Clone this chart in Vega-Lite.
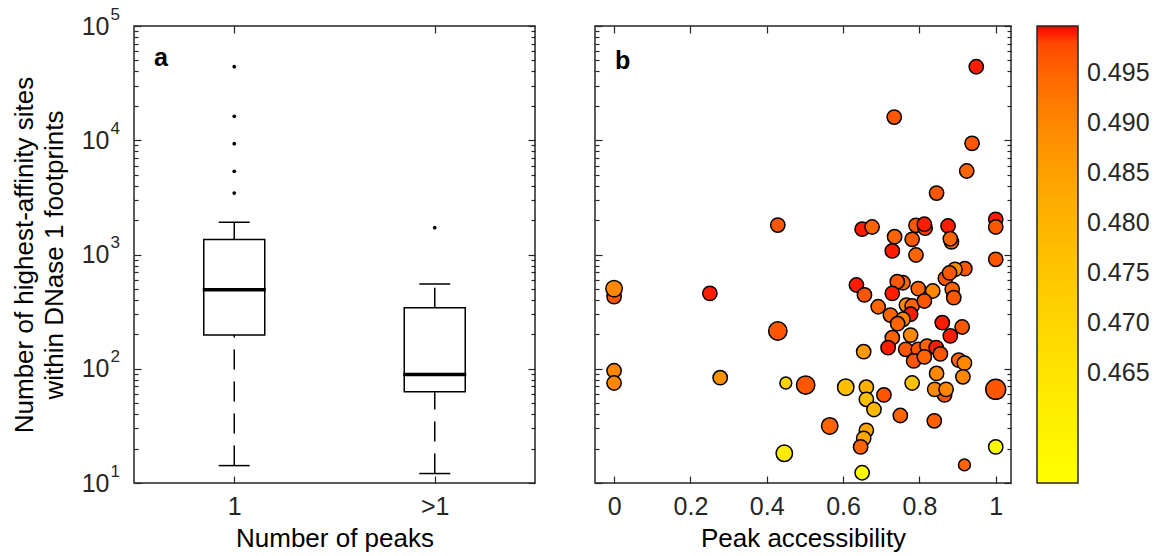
{
  "$schema": "https://vega.github.io/schema/vega-lite/v6.json",
  "background": "white",
  "padding": {"left": 10, "top": 4, "right": 5, "bottom": 5},
  "bounds": "flush",
  "spacing": 60,
  "datasets": {
    "box": [
      {"peaks": "1", "lower": 14.2, "q1": 197, "median": 492, "q3": 1350, "upper": 1915},
      {"peaks": ">1", "lower": 12.1, "q1": 63, "median": 89, "q3": 342, "upper": 552}
    ],
    "out": [
      {"peaks": "1", "v": 44000},
      {"peaks": "1", "v": 16200},
      {"peaks": "1", "v": 9330},
      {"peaks": "1", "v": 5350},
      {"peaks": "1", "v": 3450},
      {"peaks": ">1", "v": 1718}
    ],
    "pts": [
      {"acc": 0, "sites": 428, "auc": 0.4965, "n": 2},
      {"acc": 0, "sites": 503, "auc": 0.490, "n": 3},
      {"acc": 0, "sites": 96, "auc": 0.490, "n": 2},
      {"acc": 0, "sites": 75, "auc": 0.490, "n": 2},
      {"acc": 0.251, "sites": 457, "auc": 0.4995, "n": 2},
      {"acc": 0.278, "sites": 83.5, "auc": 0.488, "n": 2},
      {"acc": 0.429, "sites": 1810, "auc": 0.4965, "n": 2},
      {"acc": 0.429, "sites": 214, "auc": 0.4965, "n": 4},
      {"acc": 0.450, "sites": 75, "auc": 0.471, "n": 1},
      {"acc": 0.446, "sites": 18.2, "auc": 0.462, "n": 3},
      {"acc": 0.502, "sites": 72, "auc": 0.4965, "n": 4},
      {"acc": 0.949, "sites": 44000, "auc": 0.4995, "n": 2},
      {"acc": 0.734, "sites": 15950, "auc": 0.4965, "n": 2},
      {"acc": 0.938, "sites": 9400, "auc": 0.4965, "n": 2},
      {"acc": 0.924, "sites": 5380, "auc": 0.495, "n": 2},
      {"acc": 0.845, "sites": 3450, "auc": 0.4965, "n": 2},
      {"acc": 1.0, "sites": 2030, "auc": 0.4995, "n": 2},
      {"acc": 1.0, "sites": 1740, "auc": 0.4965, "n": 2},
      {"acc": 1.0, "sites": 908, "auc": 0.4965, "n": 2},
      {"acc": 1.0, "sites": 66, "auc": 0.4965, "n": 5},
      {"acc": 1.0, "sites": 20.7, "auc": 0.456, "n": 2},
      {"acc": 0.918, "sites": 14.4, "auc": 0.495, "n": 1},
      {"acc": 0.650, "sites": 1665, "auc": 0.4995, "n": 2},
      {"acc": 0.676, "sites": 1740, "auc": 0.495, "n": 2},
      {"acc": 0.735, "sites": 1432, "auc": 0.495, "n": 2},
      {"acc": 0.729, "sites": 1075, "auc": 0.4995, "n": 2},
      {"acc": 0.781, "sites": 1358, "auc": 0.4965, "n": 2},
      {"acc": 0.791, "sites": 1800, "auc": 0.4965, "n": 2},
      {"acc": 0.815, "sites": 1700, "auc": 0.4985, "n": 2},
      {"acc": 0.813, "sites": 1840, "auc": 0.4995, "n": 2},
      {"acc": 0.791, "sites": 990, "auc": 0.495, "n": 2},
      {"acc": 0.875, "sites": 1775, "auc": 0.4995, "n": 2},
      {"acc": 0.884, "sites": 1290, "auc": 0.4965, "n": 2},
      {"acc": 0.881, "sites": 1374, "auc": 0.495, "n": 2},
      {"acc": 0.919, "sites": 751, "auc": 0.4965, "n": 2},
      {"acc": 0.893, "sites": 741, "auc": 0.489, "n": 2},
      {"acc": 0.868, "sites": 619, "auc": 0.4965, "n": 2},
      {"acc": 0.879, "sites": 690, "auc": 0.4965, "n": 2},
      {"acc": 0.886, "sites": 496, "auc": 0.495, "n": 2},
      {"acc": 0.890, "sites": 419, "auc": 0.4965, "n": 2},
      {"acc": 0.635, "sites": 541, "auc": 0.4995, "n": 2},
      {"acc": 0.656, "sites": 443, "auc": 0.4965, "n": 2},
      {"acc": 0.757, "sites": 566, "auc": 0.495, "n": 2},
      {"acc": 0.742, "sites": 578, "auc": 0.4965, "n": 2},
      {"acc": 0.729, "sites": 457, "auc": 0.4995, "n": 2},
      {"acc": 0.797, "sites": 503, "auc": 0.495, "n": 2},
      {"acc": 0.835, "sites": 479, "auc": 0.490, "n": 2},
      {"acc": 0.692, "sites": 349, "auc": 0.495, "n": 2},
      {"acc": 0.724, "sites": 295, "auc": 0.495, "n": 2},
      {"acc": 0.766, "sites": 361, "auc": 0.490, "n": 2},
      {"acc": 0.781, "sites": 354, "auc": 0.495, "n": 2},
      {"acc": 0.813, "sites": 392, "auc": 0.4965, "n": 2},
      {"acc": 0.777, "sites": 300, "auc": 0.4995, "n": 2},
      {"acc": 0.757, "sites": 271, "auc": 0.490, "n": 2},
      {"acc": 0.743, "sites": 248, "auc": 0.495, "n": 2},
      {"acc": 0.860, "sites": 253, "auc": 0.4995, "n": 2},
      {"acc": 0.912, "sites": 232, "auc": 0.4965, "n": 2},
      {"acc": 0.881, "sites": 194, "auc": 0.4995, "n": 2},
      {"acc": 0.729, "sites": 187, "auc": 0.495, "n": 2},
      {"acc": 0.777, "sites": 197, "auc": 0.490, "n": 2},
      {"acc": 0.718, "sites": 153, "auc": 0.4995, "n": 2},
      {"acc": 0.764, "sites": 148, "auc": 0.4965, "n": 2},
      {"acc": 0.797, "sites": 148, "auc": 0.4965, "n": 2},
      {"acc": 0.820, "sites": 158, "auc": 0.495, "n": 2},
      {"acc": 0.844, "sites": 153, "auc": 0.4995, "n": 2},
      {"acc": 0.855, "sites": 135, "auc": 0.4965, "n": 2},
      {"acc": 0.785, "sites": 117, "auc": 0.4965, "n": 2},
      {"acc": 0.813, "sites": 127, "auc": 0.495, "n": 2},
      {"acc": 0.903, "sites": 119, "auc": 0.495, "n": 2},
      {"acc": 0.918, "sites": 112, "auc": 0.490, "n": 2},
      {"acc": 0.654, "sites": 141, "auc": 0.486, "n": 2},
      {"acc": 0.845, "sites": 91, "auc": 0.490, "n": 2},
      {"acc": 0.914, "sites": 85, "auc": 0.490, "n": 2},
      {"acc": 0.607, "sites": 69, "auc": 0.477, "n": 3},
      {"acc": 0.661, "sites": 69, "auc": 0.481, "n": 2},
      {"acc": 0.661, "sites": 54, "auc": 0.477, "n": 2},
      {"acc": 0.681, "sites": 44, "auc": 0.479, "n": 2},
      {"acc": 0.707, "sites": 59, "auc": 0.4965, "n": 2},
      {"acc": 0.781, "sites": 75, "auc": 0.476, "n": 2},
      {"acc": 0.750, "sites": 39, "auc": 0.495, "n": 2},
      {"acc": 0.839, "sites": 35, "auc": 0.4955, "n": 2},
      {"acc": 0.866, "sites": 59, "auc": 0.4965, "n": 2},
      {"acc": 0.840, "sites": 66, "auc": 0.490, "n": 2},
      {"acc": 0.870, "sites": 66, "auc": 0.490, "n": 2},
      {"acc": 0.565, "sites": 31.6, "auc": 0.495, "n": 3},
      {"acc": 0.661, "sites": 28.9, "auc": 0.484, "n": 2},
      {"acc": 0.654, "sites": 24.6, "auc": 0.483, "n": 2},
      {"acc": 0.646, "sites": 20.7, "auc": 0.495, "n": 2},
      {"acc": 0.650, "sites": 12.3, "auc": 0.455, "n": 2}
    ]
  },
  "hconcat": [
    {
      "width": 401,
      "height": 457,
      "title": {"text": "a", "offset": -66},
      "layer": [
        {
          "data": {"name": "box"},
          "mark": {"type": "rule", "strokeDash": [20, 12], "strokeWidth": 1.5, "color": "#000"},
          "encoding": {
            "x": {"field": "peaks", "type": "nominal", "scale": {"type": "point", "domain": ["1", ">1"], "padding": 0.5},
              "axis": {"orient": "bottom", "tickSize": -7, "labelPadding": 18, "labelAngle": 0, "title": "Number of peaks", "titlePadding": 6}},
            "y": {"field": "lower", "type": "quantitative", "scale": {"type": "log", "domain": [10, 100000], "nice": false},
              "axis": {"orient": "left", "values": [10, 100, 1000, 10000, 100000], "labelExpr": "'10'", "tickSize": -7, "labelPadding": 32, "title": ["Number of highest-affinity sites", "within DNase 1 footprints"], "titlePadding": 14, "titleLineHeight": 30}},
            "y2": {"field": "q1"}
          }
        },
        {
          "data": {"name": "box"},
          "mark": {"type": "rule", "strokeDash": [20, 12], "strokeWidth": 1.5, "color": "#000"},
          "encoding": {
            "x": {"field": "peaks", "type": "nominal", "axis": {"orient": "top", "tickSize": -7, "labels": false, "title": null}},
            "y": {"field": "q3", "type": "quantitative", "axis": {"orient": "left", "values": [20,30,40,50,60,70,80,90,200,300,400,500,600,700,800,900,2000,3000,4000,5000,6000,7000,8000,9000,20000,30000,40000,50000,60000,70000,80000,90000], "tickSize": -4, "labels": false, "title": null}},
            "y2": {"field": "upper"}
          }
        },
        {
          "data": {"name": "box"},
          "mark": {"type": "tick", "orient": "horizontal", "size": 31, "thickness": 1.5, "color": "#000", "opacity": 1},
          "encoding": {
            "x": {"field": "peaks", "type": "nominal", "axis": null},
            "y": {"field": "lower", "type": "quantitative", "axis": {"orient": "right", "values": [10, 100, 1000, 10000, 100000], "tickSize": -7, "labels": false, "title": null}}
          }
        },
        {
          "data": {"name": "box"},
          "mark": {"type": "tick", "orient": "horizontal", "size": 31, "thickness": 1.5, "color": "#000", "opacity": 1},
          "encoding": {
            "x": {"field": "peaks", "type": "nominal", "axis": null},
            "y": {"field": "upper", "type": "quantitative", "axis": {"orient": "right", "values": [20,30,40,50,60,70,80,90,200,300,400,500,600,700,800,900,2000,3000,4000,5000,6000,7000,8000,9000,20000,30000,40000,50000,60000,70000,80000,90000], "tickSize": -4, "labels": false, "title": null}}
          }
        },
        {
          "data": {"name": "box"},
          "mark": {"type": "bar", "size": 61, "fill": "white", "stroke": "#000", "strokeWidth": 1.5},
          "encoding": {
            "x": {"field": "peaks", "type": "nominal", "axis": null},
            "y": {"field": "q1", "type": "quantitative", "axis": null},
            "y2": {"field": "q3"}
          }
        },
        {
          "data": {"name": "box"},
          "mark": {"type": "tick", "orient": "horizontal", "size": 63, "thickness": 3.5, "color": "#000", "opacity": 1},
          "encoding": {
            "x": {"field": "peaks", "type": "nominal", "axis": null},
            "y": {"field": "median", "type": "quantitative", "axis": null}
          }
        },
        {
          "data": {"name": "out"},
          "mark": {"type": "circle", "size": 14, "color": "#000", "opacity": 1},
          "encoding": {
            "x": {"field": "peaks", "type": "nominal", "axis": null},
            "y": {"field": "v", "type": "quantitative",
              "axis": {"orient": "left", "values": [10, 100, 1000, 10000, 100000], "labelExpr": "round(log(datum.value)/LN10)", "ticks": false, "labelAlign": "left", "labelPadding": 24, "labelOffset": -12, "labelFontSize": 17, "title": null}}
          }
        }
      ],
      "resolve": {"axis": {"x": "independent", "y": "independent"}}
    },
    {
      "width": 416,
      "height": 457,
      "title": {"text": "b", "offset": -49},
      "data": {"name": "pts"},
      "layer": [
        {
          "mark": {"type": "circle", "opacity": 0},
          "encoding": {
            "x": {"field": "acc", "type": "quantitative", "scale": {"domain": [-0.05, 1.04], "nice": false, "zero": false},
              "axis": {"orient": "top", "values": [0, 0.2, 0.4, 0.6, 0.8, 1], "tickSize": -7, "labels": false, "title": null}},
            "y": {"field": "sites", "type": "quantitative", "scale": {"type": "log", "domain": [10, 100000], "nice": false},
              "axis": {"orient": "left", "values": [20,30,40,50,60,70,80,90,200,300,400,500,600,700,800,900,2000,3000,4000,5000,6000,7000,8000,9000,20000,30000,40000,50000,60000,70000,80000,90000], "tickSize": -4, "labels": false, "title": null}}
          }
        },
        {
          "mark": {"type": "circle", "opacity": 0},
          "encoding": {
            "x": {"field": "acc", "type": "quantitative", "axis": null},
            "y": {"field": "sites", "type": "quantitative", "axis": {"orient": "right", "values": [10, 100, 1000, 10000, 100000], "tickSize": -7, "labels": false, "title": null}}
          }
        },
        {
          "mark": {"type": "circle", "opacity": 0},
          "encoding": {
            "x": {"field": "acc", "type": "quantitative", "axis": null},
            "y": {"field": "sites", "type": "quantitative", "axis": {"orient": "right", "values": [20,30,40,50,60,70,80,90,200,300,400,500,600,700,800,900,2000,3000,4000,5000,6000,7000,8000,9000,20000,30000,40000,50000,60000,70000,80000,90000], "tickSize": -4, "labels": false, "title": null}}
          }
        },
        {
          "mark": {"type": "circle", "opacity": 1, "stroke": "#000", "strokeWidth": 1.5},
          "encoding": {
            "x": {"field": "acc", "type": "quantitative",
              "axis": {"orient": "bottom", "values": [0, 0.2, 0.4, 0.6, 0.8, 1], "format": "~g", "tickSize": -7, "labelPadding": 18, "title": "Peak accessibility", "titlePadding": 6}},
            "y": {"field": "sites", "type": "quantitative", "axis": {"orient": "left", "values": [10, 100, 1000, 10000, 100000], "tickSize": -7, "labels": false, "title": null}},
            "color": {"field": "auc", "type": "quantitative",
              "scale": {"domain": [0.454, 0.465, 0.470, 0.475, 0.480, 0.485, 0.490, 0.495, 0.499, 0.4997],
                        "range": ["#ffff00", "#ffe400", "#ffd500", "#ffc600", "#ffb400", "#ffa000", "#ff8800", "#ff6400", "#ff3a00", "#ff0000"]},
              "legend": {"orient": "right", "offset": 24, "title": null, "gradientLength": 457, "gradientThickness": 41, "gradientStrokeColor": "#262626", "gradientStrokeWidth": 1.5, "values": [0.465, 0.47, 0.475, 0.48, 0.485, 0.49, 0.495], "format": ".3f", "labelFontSize": 25, "labelOffset": 9, "labelColor": "#262626", "labelOverlap": false}},
            "size": {"field": "n", "type": "quantitative", "scale": {"domain": [1, 5], "range": [140, 400], "zero": false}, "legend": null}
          }
        }
      ],
      "resolve": {"axis": {"x": "independent", "y": "independent"}}
    }
  ],
  "config": {
    "font": "Liberation Sans",
    "view": {"stroke": "#262626", "strokeWidth": 1.5},
    "axis": {"domain": false, "grid": false, "labelFontSize": 25, "titleFontSize": 26, "titleFontWeight": "normal", "labelColor": "#262626", "titleColor": "#000000", "tickColor": "#262626", "tickWidth": 1.2},
    "title": {"fontSize": 25, "fontWeight": "bold", "anchor": "start", "frame": "group", "orient": "top", "dx": 20, "baseline": "alphabetic", "color": "#000000"}
  }
}
